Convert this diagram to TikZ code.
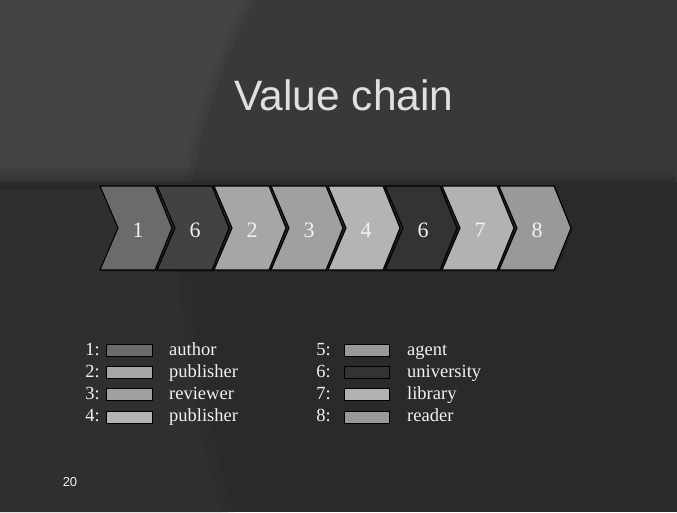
\documentclass[tikz,border=0pt]{standalone}
\usepackage{fontspec}
\setmainfont{Liberation Serif}
\setsansfont{Liberation Sans}
\usetikzlibrary{fadings}
\definecolor{bgdark}{HTML}{2A2A2A}
\definecolor{bgtop}{HTML}{393939}
\definecolor{bgtopl}{HTML}{4A4A4A}
\definecolor{bgbotl}{HTML}{313131}
\definecolor{txt}{HTML}{F2F2F2}
\definecolor{cA}{HTML}{6B6B6B}
\definecolor{cB}{HTML}{424242}
\definecolor{cC}{HTML}{A6A6A6}
\definecolor{cD}{HTML}{A0A0A0}
\definecolor{cE}{HTML}{B4B4B4}
\definecolor{cF}{HTML}{333333}
\definecolor{cG}{HTML}{B2B2B2}
\definecolor{cH}{HTML}{999999}
\tikzset{
  chev/.style={draw=black, line width=1.1pt, line join=miter},
  chevlabel/.style={font=\fontsize{22}{26}\selectfont, text=txt, inner sep=0pt},
  legnum/.style={font=\fontsize{18.5}{21}\selectfont, text=txt, anchor=base east, inner sep=0pt},
  legtxt/.style={font=\fontsize{18.5}{21}\selectfont, text=txt, anchor=base west, inner sep=0pt},
  swatch/.style={draw=black, line width=0.8pt},
}
\begin{document}
\begin{tikzpicture}[x=1pt,y=-1pt]
\useasboundingbox (0,0) rectangle (677,512);
% background
\fill[bgdark] (0,0) rectangle (677,512);
\fill[bgtop] (0,0) rectangle (677,182);
\foreach \d/\o in {-6/0.35,0/0.4,6/0.35}{
  \fill[bgtopl, opacity=\o] (0,0) -- (248+\d,0) .. controls (218+\d,60) and (196+\d,120) .. (186+\d,182) -- (0,182) -- cycle;
  \fill[bgbotl, opacity=\o] (0,182) -- (186+\d,182) .. controls (176+\d,300) and (200+\d,420) .. (228+\d,512) -- (0,512) -- cycle;
}
\fill[bgdark, path fading=north] (0,166) rectangle (677,190);
% title
\node[font=\fontsize{42.5}{48}\sffamily, text=black!12, anchor=base, inner sep=0pt] (title) at (344,110) {Value chain};
% chevrons
\foreach \i/\c/\n in {0/cA/1,1/cB/6,2/cC/2,3/cD/3,4/cE/4,5/cF/6,6/cG/7,7/cH/8}{
  \pgfmathsetmacro{\L}{100+57*\i}
  \fill[black, opacity=0.2] (\L+2,188) -- (\L+57,188) -- (\L+74,230) -- (\L+57,272) -- (\L+2,272) -- (\L+20,230) -- cycle;
  \filldraw[chev, fill=\c] (\L,186) -- (\L+55,186) -- (\L+72,228) -- (\L+55,270) -- (\L,270) -- (\L+18,228) -- cycle;
  \node[chevlabel] (ch\i) at (\L+38,230) {\n};
}
% legend
\foreach \r/\n/\c/\t in {0/1/cA/author,1/2/cC/publisher,2/3/cD/reviewer,3/4/cE/publisher}{
  \pgfmathsetmacro{\B}{355+22.33*\r}
  \node[legnum] (ln\n) at (100,\B) {\n:};
  \filldraw[swatch, fill=\c] (106,\B-11) rectangle (152,\B+1);
  \node[legtxt] (lt\n) at (169,\B) {\t};
}
\foreach \r/\n/\c/\t in {0/5/cH/agent,1/6/cF/university,2/7/cG/library,3/8/cH/reader}{
  \pgfmathsetmacro{\B}{355+22.33*\r}
  \node[legnum] (ln\n) at (331,\B) {\n:};
  \filldraw[swatch, fill=\c] (344,\B-11) rectangle (389,\B+1);
  \node[legtxt] (lt\n) at (407,\B) {\t};
}
% page number
\node[font=\fontsize{13}{15}\sffamily, text=txt, inner sep=0pt] (page) at (70,482) {20};
\end{tikzpicture}
\end{document}
